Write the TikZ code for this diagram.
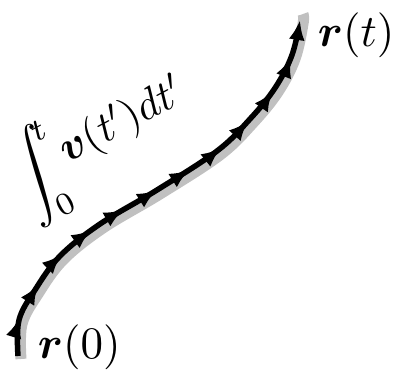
\documentclass[tikz,border=0pt]{standalone}
\usepackage{amsmath}
\usetikzlibrary{arrows.meta,decorations.markings}
\definecolor{pathgray}{RGB}{192,192,192}
\tikzset{
  graypath/.style={draw=pathgray,line width=11pt},
  chain/.style={draw=black,line width=5.5pt,-{Latex[length=20pt,width=16pt]},
    postaction={decorate},
    decoration={markings,mark=between positions 0.083 and 0.92 step 0.0833 with {\arrow{Latex[length=20pt,width=16pt]}}}},
  lbl/.style={inner sep=0pt,scale=4.5}
}
\begin{document}
\begin{tikzpicture}[x=1pt,y=-1pt]
\useasboundingbox (0,0) rectangle (396,370);
\path[graypath] plot[smooth,tension=0.6] coordinates {(21,359) (22,324) (38,294) (63,260) (103,228) (160,194) (220,155) (253,123) (278,92) (295,59) (303,24) (303,14)};
\path[chain] plot[smooth,tension=0.6] coordinates {(18,356) (19,320) (35,290) (60,256) (100,224) (157,190) (217,151) (250,119) (275,88) (292,55) (300,20)};
\node[lbl,anchor=west] (rt) at (317,35) {$\boldsymbol{r}(t)$};
\node[lbl,anchor=west] (r0) at (37,347) {$\boldsymbol{r}(0)$};
\node[lbl,rotate=28] (int) at (38,176) {$\displaystyle\int$};
\node[lbl,rotate=28] (up) at (38,131) {$\scriptstyle t$};
\node[lbl,rotate=28] (lo) at (65,204) {$\scriptstyle 0$};
\node[lbl,scale=0.96,rotate=28] (ig) at (123,122) {$\boldsymbol{v}(t')dt'$};
\end{tikzpicture}
\end{document}
